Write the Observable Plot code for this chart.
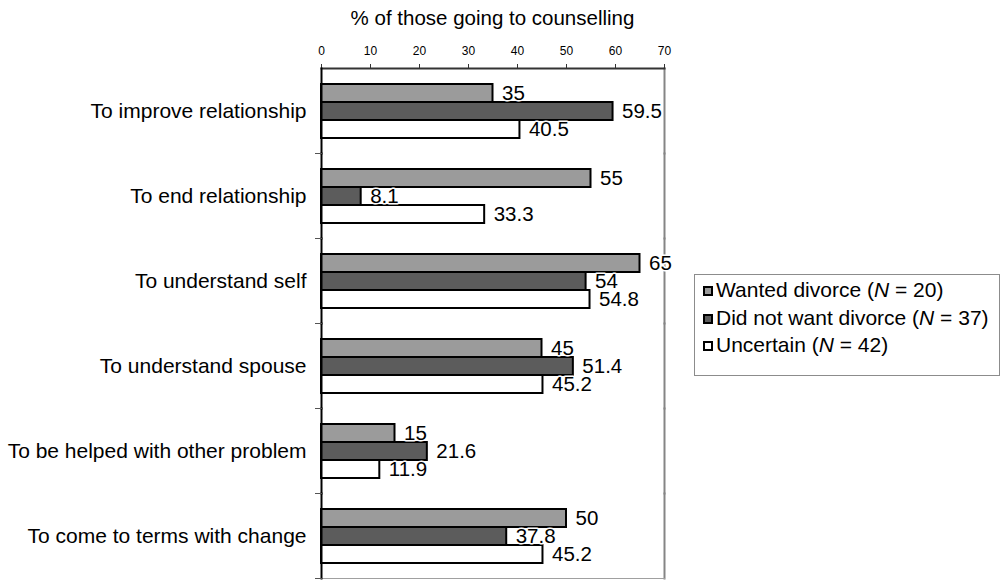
<!DOCTYPE html>
<html>
<head>
<meta charset="utf-8">
<script src="https://cdn.jsdelivr.net/npm/d3@7"></script>
<script src="https://cdn.jsdelivr.net/npm/@observablehq/plot@0.6"></script>
<style>
  html, body { margin: 0; padding: 0; background: #fff; }
  body { font-family: "Liberation Sans", Arial, sans-serif; }
  #wrap { position: relative; width: 1004px; height: 581px; }
  #title {
    position: absolute; left: 321px; width: 343px; top: 8px;
    text-align: center; font-size: 20.5px; line-height: 20.5px; white-space: nowrap;
  }
  #legend {
    position: absolute; left: 694px; top: 274px; width: 296px; height: 86px;
    border: 1px solid #8c8c8c; padding: 1px 0 13px 8px; background: #fff;
    font-size: 21px;
  }
  .row { display: flex; align-items: center; height: 27.5px; line-height: 27.5px; white-space: nowrap; }
  .sw { width: 6px; height: 6px; border: 2px solid #000; margin: 3px 3px 0 0; flex: none; }
</style>
</head>
<body>
<div id="wrap">
  <div id="chart"></div>
  <div id="title"></div>
  <div id="legend"></div>
</div>
<script>
// Reasons for going to counselling, by attitude to the divorce
const categories = [
  "To improve relationship",
  "To end relationship",
  "To understand self",
  "To understand spouse",
  "To be helped with other problem",
  "To come to terms with change"
];
const series = ["Wanted divorce", "Did not want divorce", "Uncertain"];
const seriesN = [20, 37, 42];
const wantedDivorce = [35, 55, 65, 45, 15, 50];
const didNotWantDivorce = [59.5, 8.1, 54, 51.4, 21.6, 37.8];
const uncertain = [40.5, 33.3, 54.8, 45.2, 11.9, 45.2];
const xTicks = [0, 10, 20, 30, 40, 50, 60, 70];
const titleText = "% of those going to counselling";
const fills = ["#9b9b9b", "#5c5c5c", "#ffffff"];

const valuesBySeries = [wantedDivorce, didNotWantDivorce, uncertain];
const rows = [];
categories.forEach((c, i) => {
  series.forEach((s, j) => rows.push({category: c, series: s, value: valuesBySeries[j][i]}));
});

const W = 1004, H = 581, ML = 321, MR = 340;
const plotW = W - ML - MR;

const chart = Plot.plot({
  width: W,
  height: H,
  marginLeft: ML,
  marginRight: MR,
  marginTop: 67,
  marginBottom: 3,
  style: {fontFamily: '"Liberation Sans", Arial, sans-serif', background: "transparent", color: "#000"},
  x: {domain: [0, 70]},
  fy: {domain: categories, paddingInner: 0, paddingOuter: 0},
  y: {domain: series, paddingInner: 0, paddingOuter: 0.737, axis: null},
  color: {domain: series, range: fills},
  marks: [
    // right and bottom plot-area border (grey)
    Plot.frame({anchor: "right", stroke: "#858585", strokeWidth: 2}),
    Plot.frame({anchor: "bottom", fy: () => categories[categories.length - 1], stroke: "#a0a0a0", strokeWidth: 1}),
    Plot.barX(rows, {
      x: "value", y: "series", fy: "category",
      fill: "series", stroke: "#000", strokeWidth: 2
    }),
    Plot.text(rows, {
      x: "value", y: "series", fy: "category",
      text: d => String(d.value),
      textAnchor: "start", dx: 9, fontSize: 20.5,
      fill: "#000", stroke: "#fff", strokeWidth: 3, paintOrder: "stroke"
    }),
    // top value axis
    Plot.frame({anchor: "top", fy: () => categories[0], stroke: "#333", strokeWidth: 2}),
    Plot.axisX({anchor: "top", ticks: xTicks, tickSize: 5, tickPadding: 9, fontSize: 12, label: null, stroke: "#333"}),
    // left category axis with boundary ticks
    Plot.frame({anchor: "left", stroke: "#000", strokeWidth: 2}),
    Plot.frame({anchor: "bottom", insetLeft: -6, insetRight: plotW, stroke: "#555", strokeWidth: 1}),
    Plot.axisFy({anchor: "left", tickSize: 0, tickPadding: 15, fontSize: 21, label: null})
  ]
});
document.getElementById("chart").appendChild(chart);

document.getElementById("title").textContent = titleText;

const legend = d3.select("#legend");
series.forEach((s, j) => {
  const row = legend.append("div").attr("class", "row");
  row.append("span").attr("class", "sw").style("background", fills[j]);
  const label = row.append("span");
  label.append("tspan").text(s + " (");
  label.append("i").text("N");
  label.append("tspan").text(" = " + seriesN[j] + ")");
});
</script>
</body>
</html>
